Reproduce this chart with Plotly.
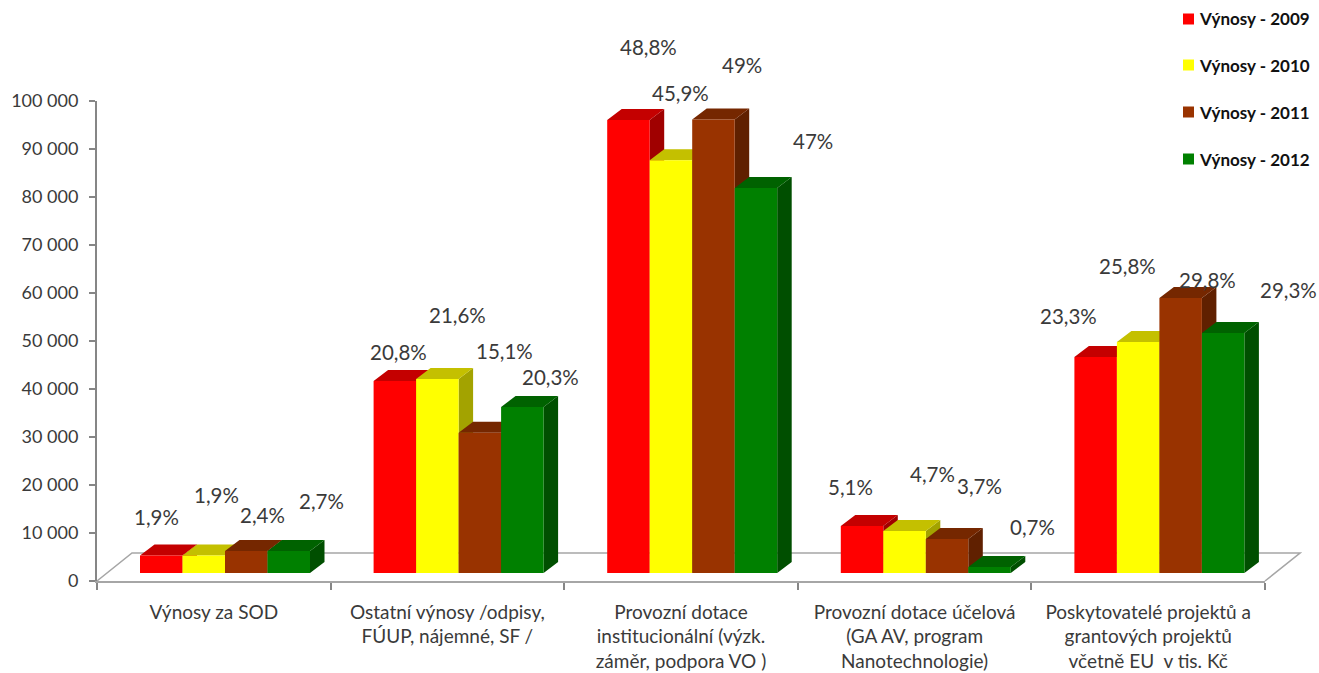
import plotly.graph_objects as go

categories = [
    "Výnosy za SOD",
    "Ostatní výnosy /odpisy,<br>FÚUP, nájemné, SF /",
    "Provozní dotace<br>institucionální (výzk.<br>záměr, podpora VO )",
    "Provozní dotace účelová<br>(GA AV, program<br>Nanotechnologie)",
    "Poskytovatelé projektů a<br>grantových projektů<br>včetně EU  v tis. Kč",
]
series_names = ["Výnosy - 2009", "Výnosy - 2010", "Výnosy - 2011", "Výnosy - 2012"]
values_2009 = [3650, 40000, 94400, 9800, 45000]
values_2010 = [3650, 40400, 86000, 8750, 48100]
values_2011 = [4580, 29200, 94500, 7100, 57300]
values_2012 = [4580, 34600, 80200, 1250, 50000]
share_2009 = ["1,9%", "20,8%", "48,8%", "5,1%", "23,3%"]
share_2010 = ["1,9%", "21,6%", "45,9%", "4,7%", "25,8%"]
share_2011 = ["2,4%", "15,1%", "49%", "3,7%", "29,8%"]
share_2012 = ["2,7%", "20,3%", "47%", "0,7%", "29,3%"]
y_ticks = [0, 10000, 20000, 30000, 40000, 50000, 60000, 70000, 80000, 90000, 100000]
y_tick_labels = ["0", "10 000", "20 000", "30 000", "40 000", "50 000",
                 "60 000", "70 000", "80 000", "90 000", "100 000"]

all_values = [values_2009, values_2010, values_2011, values_2012]
all_shares = [share_2009, share_2010, share_2011, share_2012]

# styles
front = ["#FF0000", "#FFFF00", "#993300", "#008000"]
top = ["#C40000", "#C4C000", "#752700", "#006200"]
side = ["#A00000", "#A3A300", "#602000", "#004F00"]
GRAY = "#A6A6A6"
AXIS = "#868686"
TEXT = "#3A3A3A"
FONT = "Lato"

W, H = 1319, 673
L, R, T, B = 97, 54, 101, 92
PW, PH = W - L - R, H - T - B

# geometry (plot area is 1168 x 480 px)
SLOT_PX = PW / 5
PX_Y = 100000 / PH
BAR_W = 42.5 / SLOT_PX
GROUP_OFFSET = -73.8 / SLOT_PX
BASE = 8 * PX_Y
DEPTH_X = 14.5 / SLOT_PX
DEPTH_Y = 11 * PX_Y

# data label offsets from the front-face top centre, px
label_dx = [[-5, 4, 20, -12, -27], [13, 20, 10, 28, -11], [16, 25, 29, 32, 27], [33, 28, 57, 43, 65]]
label_dy = [[38, 29, 73, 39, 41], [60, 64, 67, 57, 76], [36, 82, 54, 53, 18], [50, 30, 47, 40, 43]]

fig = go.Figure()

# side and top faces, left to right, below the front faces
for s, vals in enumerate(all_values):
    sx, sy, tx, ty = [], [], [], []
    for g, v in enumerate(vals):
        x0 = g + GROUP_OFFSET + s * BAR_W
        x1 = x0 + BAR_W
        y0 = BASE
        y1 = BASE + v
        sx += [x1, x1 + DEPTH_X, x1 + DEPTH_X, x1, x1, None]
        sy += [y0, y0 + DEPTH_Y, y1 + DEPTH_Y, y1, y0, None]
        tx += [x0, x1, x1 + DEPTH_X, x0 + DEPTH_X, x0, None]
        ty += [y1, y1, y1 + DEPTH_Y, y1 + DEPTH_Y, y1, None]
    fig.add_trace(go.Scatter(x=sx, y=sy, mode="lines", fill="toself", fillcolor=side[s],
                             line=dict(width=0, color=side[s]), hoverinfo="skip",
                             showlegend=False, cliponaxis=False))
    fig.add_trace(go.Scatter(x=tx, y=ty, mode="lines", fill="toself", fillcolor=top[s],
                             line=dict(width=0, color=top[s]), hoverinfo="skip",
                             showlegend=False, cliponaxis=False))

# front faces
for s, vals in enumerate(all_values):
    fig.add_trace(go.Bar(
        x=list(range(5)), y=vals, base=BASE, name=series_names[s],
        width=BAR_W, offset=GROUP_OFFSET + s * BAR_W,
        marker=dict(color=front[s], line=dict(width=0)),
        xaxis="x2", yaxis="y2", showlegend=False,
    ))

annotations = []
for s, vals in enumerate(all_values):
    for g, v in enumerate(vals):
        annotations.append(dict(
            x=g + GROUP_OFFSET + (s + 0.5) * BAR_W, y=BASE + v, xref="x", yref="y",
            text=all_shares[s][g], showarrow=False,
            xshift=label_dx[s][g], yshift=label_dy[s][g],
            xanchor="center", yanchor="middle",
            font=dict(family=FONT, size=20.5, color=TEXT),
        ))

# floor of the 3D plot, reaching past the plot area on the right
fdx = 35 / PW
fdy = 28 / PH
shapes = [dict(
    type="path", xref="paper", yref="paper", layer="below",
    path=f"M 0 0 L {fdx} {fdy} L {1 + fdx} {fdy} L 1 0",
    line=dict(color=GRAY, width=1.6),
)]

# legend drawn in figure space
legend_left = 1183
legend_y = [19, 65, 112, 159]
for s, name in enumerate(series_names):
    ly = legend_y[s]
    shapes.append(dict(
        type="rect", xref="paper", yref="paper",
        x0=(legend_left - L) / PW, x1=(legend_left + 11 - L) / PW,
        y0=(H - B - (ly + 5.5)) / PH, y1=(H - B - (ly - 5.5)) / PH,
        fillcolor=front[s], line=dict(width=0),
    ))
    annotations.append(dict(
        xref="paper", yref="paper", x=(1197 - L) / PW, y=(H - B - ly) / PH,
        text="<b>" + name + "</b>", showarrow=False, xanchor="left", yanchor="middle",
        font=dict(family=FONT, size=17, color="#111111"),
    ))

fig.update_layout(
    width=W, height=H, margin=dict(l=L, r=R, t=T, b=B, autoexpand=False),
    paper_bgcolor="white", plot_bgcolor="white", showlegend=False,
    barmode="overlay", shapes=shapes, annotations=annotations,
    font=dict(family=FONT, color=TEXT),
    xaxis=dict(
        range=[-0.5, 4.5], tickmode="array", tickvals=list(range(5)), ticktext=categories,
        ticks="", showgrid=False, zeroline=False, showline=True, linecolor=GRAY, linewidth=1.8,
        ticklabelstandoff=13, tickfont=dict(family=FONT, size=19, color=TEXT),
        minor=dict(ticks="outside", tick0=-0.5, dtick=1, ticklen=7, tickcolor=AXIS,
                   tickwidth=1.6, showgrid=False),
    ),
    yaxis=dict(
        range=[0, 100000], tickmode="array", tickvals=y_ticks, ticktext=y_tick_labels,
        ticks="outside", ticklen=6, tickcolor=AXIS, tickwidth=1.6, ticklabelstandoff=7,
        showgrid=False, zeroline=False, showline=True, linecolor=AXIS, linewidth=2,
        tickfont=dict(family=FONT, size=18, color=TEXT),
    ),
    xaxis2=dict(range=[-0.5, 4.5], overlaying="x", visible=False),
    yaxis2=dict(range=[0, 100000], overlaying="y", visible=False),
)

fig.write_html("out.html", config=dict(displayModeBar=False),
               post_script="document.body.style.margin='0';")
